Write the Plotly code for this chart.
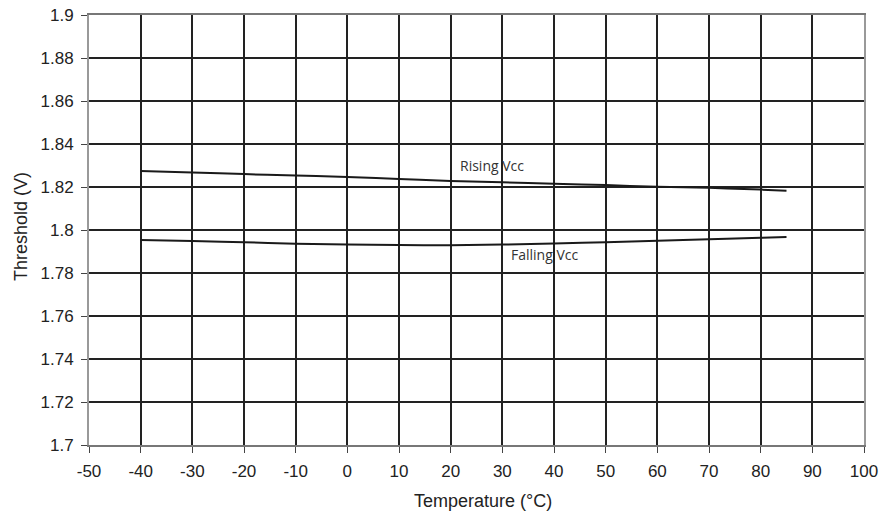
import plotly.graph_objects as go

temps = [-40, -30, -20, -10, 0, 10, 20, 30, 40, 50, 60, 70, 80, 85]
rising_vcc = [1.8274, 1.8268, 1.8260, 1.8253, 1.8247, 1.8237, 1.8228, 1.8222, 1.8215, 1.8209, 1.8201, 1.8196, 1.8188, 1.8183]
falling_vcc = [1.7953, 1.7949, 1.7943, 1.7936, 1.7932, 1.7930, 1.7929, 1.7932, 1.7937, 1.7943, 1.7950, 1.7957, 1.7964, 1.7967]

x_ticks = list(range(-50, 101, 10))
x_tick_text = [str(v) for v in x_ticks]
y_ticks = [1.7, 1.72, 1.74, 1.76, 1.78, 1.8, 1.82, 1.84, 1.86, 1.88, 1.9]
y_tick_text = ["1.7", "1.72", "1.74", "1.76", "1.78", "1.8", "1.82", "1.84", "1.86", "1.88", "1.9"]

x_title = "Temperature (°C)"
y_title = "Threshold (V)"

fig = go.Figure()
fig.add_trace(go.Scatter(x=temps, y=rising_vcc, mode="lines", line=dict(color="#1a1a1a", width=2),
                         name="Rising Vcc", line_shape="spline", hoverinfo="skip"))
fig.add_trace(go.Scatter(x=temps, y=falling_vcc, mode="lines", line=dict(color="#1a1a1a", width=2),
                         name="Falling Vcc", line_shape="spline", hoverinfo="skip"))

label_font = dict(family="Open Sans, Liberation Sans, Arial", size=14, color="#333")
fig.add_annotation(x=21.5, y=1.8299, text="Rising Vcc", showarrow=False, xanchor="left", yanchor="middle", font=label_font)
fig.add_annotation(x=31.2, y=1.7884, text="Falling Vcc", showarrow=False, xanchor="left", yanchor="middle", font=label_font)

title_font = dict(family="Liberation Sans, Arial, Helvetica", size=18, color="#222")
fig.add_annotation(x=0.508, y=0, xref="paper", yref="paper", text=x_title, showarrow=False,
                   xanchor="center", yanchor="middle", yshift=-56, font=title_font)
fig.add_annotation(x=0, y=0.507, xref="paper", yref="paper", text=y_title, showarrow=False, textangle=-90,
                   xanchor="center", yanchor="middle", xshift=-68, font=title_font)

fig.update_layout(
    width=882, height=517,
    margin=dict(l=89, r=18, t=15, b=72, autoexpand=False),
    paper_bgcolor="white", plot_bgcolor="white",
    showlegend=False,
    font=dict(family="Liberation Sans, Arial, Helvetica", size=17, color="#222"),
    xaxis=dict(range=[-50, 100], tickvals=x_ticks, ticktext=x_tick_text, ticks="outside", ticklen=6,
               tickcolor="#444", tickwidth=1, automargin=False, ticklabelstandoff=4,
               showgrid=True, gridcolor="#222", gridwidth=2, zeroline=False,
               showline=True, linecolor="#777", linewidth=1.5, mirror=True,
               tickfont=dict(size=17)),
    yaxis=dict(range=[1.7, 1.9], tickvals=y_ticks, ticktext=y_tick_text, ticks="outside", ticklen=6,
               tickcolor="#444", tickwidth=1, automargin=False, ticklabelstandoff=4,
               showgrid=True, gridcolor="#222", gridwidth=2, zeroline=False,
               showline=True, linecolor="#999", linewidth=2, mirror=True,
               tickfont=dict(size=17)),
)

fig.write_html("out.html", config={"displayModeBar": False},
               post_script="document.body.style.margin='0';document.body.style.overflow='hidden';")
